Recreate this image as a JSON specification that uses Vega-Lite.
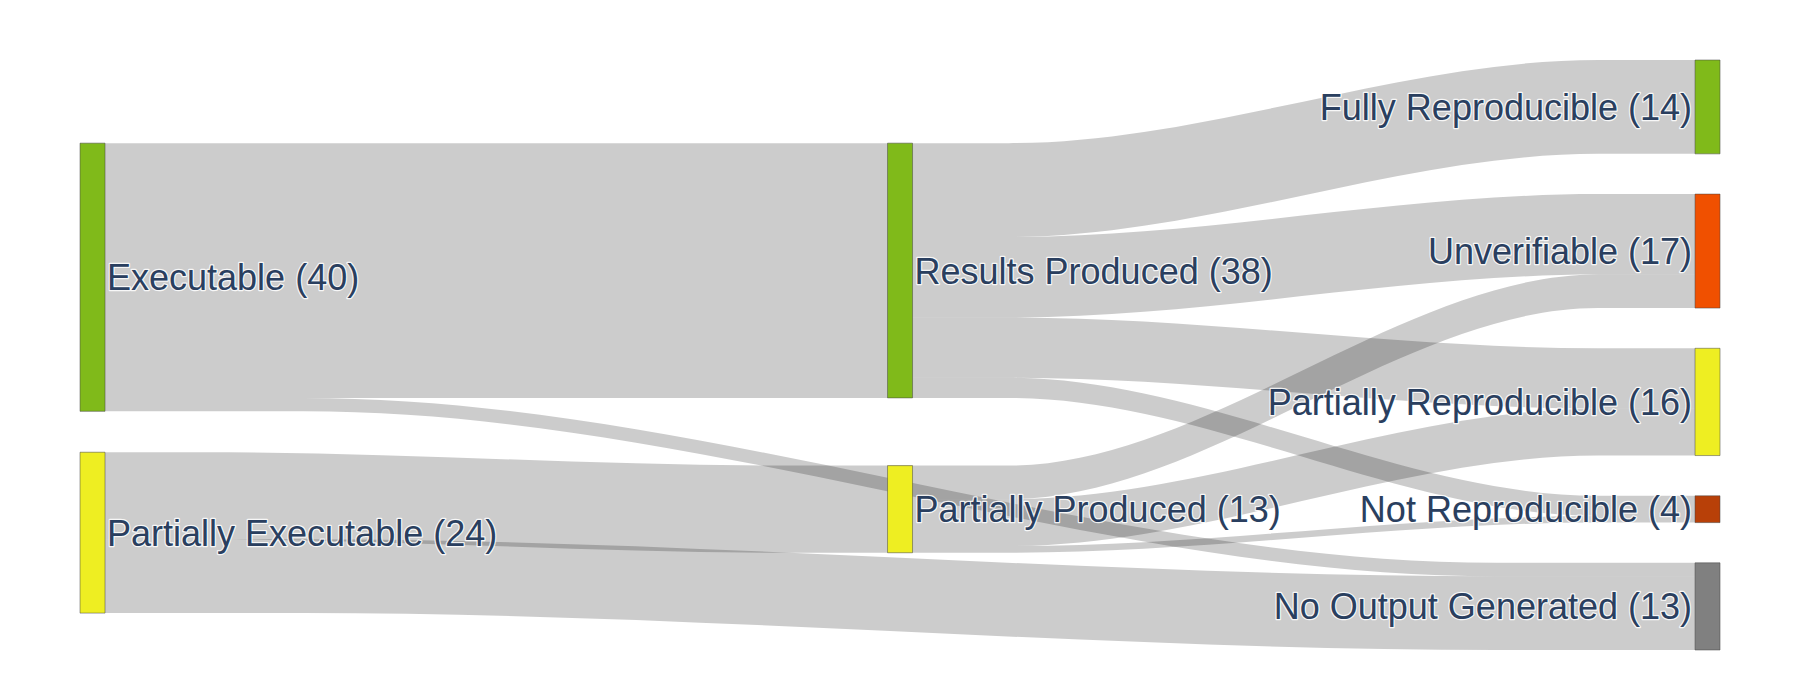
{
  "$schema": "https://vega.github.io/schema/vega-lite/v6.json",
  "width": 1800,
  "height": 700,
  "padding": 0,
  "autosize": "none",
  "background": "white",
  "config": {"view": {"stroke": null}},
  "datasets": {
    "nodes": [
      {"node": "Executable", "label": "Executable (40)", "stage": 0, "y0": 12.4, "y1": 52.4},
      {"node": "Partially Executable", "label": "Partially Executable (24)", "stage": 0, "y0": 58.5, "y1": 82.5},
      {"node": "Results Produced", "label": "Results Produced (38)", "stage": 1, "y0": 12.4, "y1": 50.4},
      {"node": "Partially Produced", "label": "Partially Produced (13)", "stage": 1, "y0": 60.5, "y1": 73.5},
      {"node": "Fully Reproducible", "label": "Fully Reproducible (14)", "stage": 2, "y0": 0, "y1": 14},
      {"node": "Unverifiable", "label": "Unverifiable (17)", "stage": 2, "y0": 20, "y1": 37},
      {"node": "Partially Reproducible", "label": "Partially Reproducible (16)", "stage": 2, "y0": 43, "y1": 59},
      {"node": "Not Reproducible", "label": "Not Reproducible (4)", "stage": 2, "y0": 65, "y1": 69},
      {"node": "No Output Generated", "label": "No Output Generated (13)", "stage": 2, "y0": 75, "y1": 88}
    ],
    "links": [
      {"link": "Executable→Results Produced", "x": 0, "top": 12.4, "bottom": 50.4},
      {"link": "Executable→Results Produced", "x": 0.15, "top": 12.4, "bottom": 50.4},
      {"link": "Executable→Results Produced", "x": 0.88, "top": 12.4, "bottom": 50.4},
      {"link": "Executable→Results Produced", "x": 1, "top": 12.4, "bottom": 50.4},

      {"link": "Executable→No Output Generated", "x": 0, "top": 50.4, "bottom": 52.4},
      {"link": "Executable→No Output Generated", "x": 0.277, "top": 50.4, "bottom": 52.4},
      {"link": "Executable→No Output Generated", "x": 1.754, "top": 75, "bottom": 77},
      {"link": "Executable→No Output Generated", "x": 2, "top": 75, "bottom": 77},

      {"link": "Partially Executable→Partially Produced", "x": 0, "top": 58.5, "bottom": 71.5},
      {"link": "Partially Executable→Partially Produced", "x": 0.15, "top": 58.5, "bottom": 71.5},
      {"link": "Partially Executable→Partially Produced", "x": 0.88, "top": 60.5, "bottom": 73.5},
      {"link": "Partially Executable→Partially Produced", "x": 1, "top": 60.5, "bottom": 73.5},

      {"link": "Partially Executable→No Output Generated", "x": 0, "top": 71.5, "bottom": 82.5},
      {"link": "Partially Executable→No Output Generated", "x": 0.277, "top": 71.5, "bottom": 82.5},
      {"link": "Partially Executable→No Output Generated", "x": 1.754, "top": 77, "bottom": 88},
      {"link": "Partially Executable→No Output Generated", "x": 2, "top": 77, "bottom": 88},

      {"link": "Results Produced→Fully Reproducible", "x": 1, "top": 12.4, "bottom": 26.4},
      {"link": "Results Produced→Fully Reproducible", "x": 1.15, "top": 12.4, "bottom": 26.4},
      {"link": "Results Produced→Fully Reproducible", "x": 1.88, "top": 0, "bottom": 14},
      {"link": "Results Produced→Fully Reproducible", "x": 2, "top": 0, "bottom": 14},

      {"link": "Results Produced→Unverifiable", "x": 1, "top": 26.4, "bottom": 38.4},
      {"link": "Results Produced→Unverifiable", "x": 1.15, "top": 26.4, "bottom": 38.4},
      {"link": "Results Produced→Unverifiable", "x": 1.88, "top": 20, "bottom": 32},
      {"link": "Results Produced→Unverifiable", "x": 2, "top": 20, "bottom": 32},

      {"link": "Results Produced→Partially Reproducible", "x": 1, "top": 38.4, "bottom": 47.4},
      {"link": "Results Produced→Partially Reproducible", "x": 1.15, "top": 38.4, "bottom": 47.4},
      {"link": "Results Produced→Partially Reproducible", "x": 1.88, "top": 43, "bottom": 52},
      {"link": "Results Produced→Partially Reproducible", "x": 2, "top": 43, "bottom": 52},

      {"link": "Results Produced→Not Reproducible", "x": 1, "top": 47.4, "bottom": 50.4},
      {"link": "Results Produced→Not Reproducible", "x": 1.15, "top": 47.4, "bottom": 50.4},
      {"link": "Results Produced→Not Reproducible", "x": 1.88, "top": 65, "bottom": 68},
      {"link": "Results Produced→Not Reproducible", "x": 2, "top": 65, "bottom": 68},

      {"link": "Partially Produced→Unverifiable", "x": 1, "top": 60.5, "bottom": 65.5},
      {"link": "Partially Produced→Unverifiable", "x": 1.15, "top": 60.5, "bottom": 65.5},
      {"link": "Partially Produced→Unverifiable", "x": 1.88, "top": 32, "bottom": 37},
      {"link": "Partially Produced→Unverifiable", "x": 2, "top": 32, "bottom": 37},

      {"link": "Partially Produced→Partially Reproducible", "x": 1, "top": 65.5, "bottom": 72.5},
      {"link": "Partially Produced→Partially Reproducible", "x": 1.15, "top": 65.5, "bottom": 72.5},
      {"link": "Partially Produced→Partially Reproducible", "x": 1.88, "top": 52, "bottom": 59},
      {"link": "Partially Produced→Partially Reproducible", "x": 2, "top": 52, "bottom": 59},

      {"link": "Partially Produced→Not Reproducible", "x": 1, "top": 72.5, "bottom": 73.5},
      {"link": "Partially Produced→Not Reproducible", "x": 1.15, "top": 72.5, "bottom": 73.5},
      {"link": "Partially Produced→Not Reproducible", "x": 1.88, "top": 68, "bottom": 69},
      {"link": "Partially Produced→Not Reproducible", "x": 2, "top": 68, "bottom": 69}
    ]
  },
  "layer": [
    {
      "data": {"name": "links"},
      "mark": {"type": "area", "interpolate": "monotone", "orient": "vertical", "fill": "#000000", "fillOpacity": 0.2},
      "encoding": {
        "x": {"field": "x", "type": "quantitative", "scale": {"domain": [-0.0991, 2.13], "nice": false, "zero": false}, "axis": null},
        "y": {"field": "top", "type": "quantitative", "stack": null, "scale": {"domain": [-8.95, 95.46], "reverse": true, "nice": false, "zero": false}, "axis": null},
        "y2": {"field": "bottom"},
        "detail": {"field": "link", "type": "nominal"}
      }
    },
    {
      "data": {"name": "nodes"},
      "mark": {"type": "rect", "x2Offset": 25, "stroke": "#444444", "strokeWidth": 0.5},
      "encoding": {
        "x": {"field": "stage", "type": "quantitative", "scale": {"domain": [-0.0991, 2.13], "nice": false, "zero": false}, "axis": null},
        "x2": {"field": "stage"},
        "y": {"field": "y0", "type": "quantitative", "scale": {"domain": [-8.95, 95.46], "reverse": true, "nice": false, "zero": false}, "axis": null},
        "y2": {"field": "y1"},
        "fill": {
          "field": "node", "type": "nominal", "legend": null,
          "scale": {
            "domain": ["Executable", "Partially Executable", "Results Produced", "Partially Produced", "Fully Reproducible", "Unverifiable", "Partially Reproducible", "Not Reproducible", "No Output Generated"],
            "range": ["#80ba1a", "#eeee22", "#80ba1a", "#eeee22", "#80ba1a", "#f05000", "#eeee22", "#b84008", "#808080"]
          }
        }
      }
    },
    {
      "data": {"name": "nodes"},
      "transform": [
        {"filter": "datum.stage < 2"},
        {"fold": ["y0", "y1"], "as": ["k", "v"]}
      ],
      "mark": {"type": "text", "align": "left", "baseline": "middle", "dx": 27, "dy": 2, "font": "Liberation Sans", "fontSize": 36, "fill": "#2a3f5f", "stroke": "white", "strokeWidth": 2.5, "strokeOpacity": 0.85, "strokeJoin": "round"},
      "encoding": {
        "x": {"field": "stage", "type": "quantitative", "axis": null},
        "y": {"field": "v", "aggregate": "mean", "type": "quantitative", "axis": null},
        "text": {"field": "label", "type": "nominal"}
      }
    },
    {
      "data": {"name": "nodes"},
      "transform": [
        {"filter": "datum.stage == 2"},
        {"fold": ["y0", "y1"], "as": ["k", "v"]}
      ],
      "mark": {"type": "text", "align": "right", "baseline": "middle", "dx": -3, "dy": 2, "font": "Liberation Sans", "fontSize": 36, "fill": "#2a3f5f", "stroke": "white", "strokeWidth": 2.5, "strokeOpacity": 0.85, "strokeJoin": "round"},
      "encoding": {
        "x": {"field": "stage", "type": "quantitative", "axis": null},
        "y": {"field": "v", "aggregate": "mean", "type": "quantitative", "axis": null},
        "text": {"field": "label", "type": "nominal"}
      }
    },
    {
      "data": {"name": "nodes"},
      "transform": [
        {"filter": "datum.stage < 2"},
        {"fold": ["y0", "y1"], "as": ["k", "v"]}
      ],
      "mark": {"type": "text", "align": "left", "baseline": "middle", "dx": 27, "dy": 2, "font": "Liberation Sans", "fontSize": 36, "fill": "#2a3f5f"},
      "encoding": {
        "x": {"field": "stage", "type": "quantitative", "axis": null},
        "y": {"field": "v", "aggregate": "mean", "type": "quantitative", "axis": null},
        "text": {"field": "label", "type": "nominal"}
      }
    },
    {
      "data": {"name": "nodes"},
      "transform": [
        {"filter": "datum.stage == 2"},
        {"fold": ["y0", "y1"], "as": ["k", "v"]}
      ],
      "mark": {"type": "text", "align": "right", "baseline": "middle", "dx": -3, "dy": 2, "font": "Liberation Sans", "fontSize": 36, "fill": "#2a3f5f"},
      "encoding": {
        "x": {"field": "stage", "type": "quantitative", "axis": null},
        "y": {"field": "v", "aggregate": "mean", "type": "quantitative", "axis": null},
        "text": {"field": "label", "type": "nominal"}
      }
    }
  ]
}
